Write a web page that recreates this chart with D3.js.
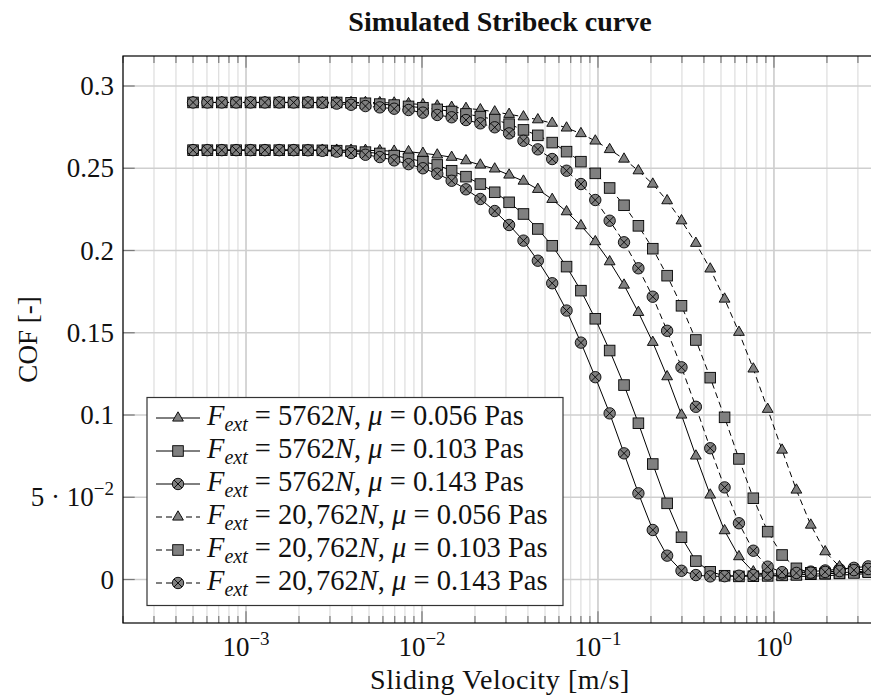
<!DOCTYPE html>
<html>
<head>
<meta charset="utf-8">
<script src="https://cdn.jsdelivr.net/npm/d3@7"></script>
<style>
  body { margin: 0; background: #fff; }
  svg { display: block; }
  text { font-family: "Liberation Serif", "Times New Roman", serif; fill: #111; white-space: pre; }
</style>
</head>
<body>
<div id="chart"></div>
<script>
const velocity = [0.0005, 0.0006034, 0.0007282, 0.0008788, 0.001061, 0.00128, 0.001545, 0.001864, 0.002249, 0.002715,
  0.003276, 0.003953, 0.004771, 0.005757, 0.006948, 0.008385, 0.01012, 0.01221, 0.01474, 0.01778,
  0.02146, 0.0259, 0.03126, 0.03772, 0.04552, 0.05493, 0.06629, 0.08, 0.09654, 0.1165,
  0.1406, 0.1697, 0.2048, 0.2471, 0.2982, 0.3599, 0.4343, 0.5241, 0.6324, 0.7632,
  0.921, 1.112, 1.341, 1.619, 1.954, 2.357, 2.845, 3.433, 4.143, 5.0];

const cof5762_056 = [0.261, 0.261, 0.261, 0.261, 0.261, 0.261, 0.261, 0.261, 0.261, 0.261,
  0.261, 0.261, 0.2609, 0.2607, 0.2604, 0.2601, 0.2591, 0.2581, 0.2567, 0.2546,
  0.2520, 0.2496, 0.2459, 0.2422, 0.2372, 0.2311, 0.2236, 0.2151, 0.2054, 0.1932,
  0.1790, 0.1624, 0.1442, 0.1233, 0.1000, 0.0751, 0.0514, 0.0297, 0.0139, 0.0047,
  0.0027, 0.0018, 0.0018, 0.0020, 0.0023, 0.0027, 0.0031, 0.0035, 0.0040, 0.0045];

const cof5762_103 = [0.261, 0.261, 0.261, 0.261, 0.261, 0.261, 0.261, 0.261, 0.261, 0.2609,
  0.2607, 0.2604, 0.2598, 0.2590, 0.2577, 0.2560, 0.2540, 0.2520, 0.2485, 0.2449,
  0.2404, 0.2354, 0.2293, 0.2222, 0.2131, 0.2029, 0.1902, 0.1756, 0.1585, 0.1392,
  0.1182, 0.0950, 0.0702, 0.0463, 0.0257, 0.0112, 0.0047, 0.0023, 0.0019, 0.0020,
  0.0022, 0.0025, 0.0028, 0.0032, 0.0036, 0.0041, 0.0046, 0.0052, 0.0058, 0.0065];

const cof5762_143 = [0.261, 0.261, 0.261, 0.261, 0.261, 0.261, 0.261, 0.261, 0.2609, 0.2606,
  0.2601, 0.2593, 0.2582, 0.2568, 0.2548, 0.2525, 0.2500, 0.2467, 0.2424, 0.2372,
  0.2313, 0.2240, 0.2155, 0.2060, 0.1938, 0.1801, 0.1635, 0.1440, 0.1230, 0.1010,
  0.0767, 0.0524, 0.0301, 0.0145, 0.0053, 0.0027, 0.0019, 0.0020, 0.0023, 0.0027,
  0.0031, 0.0036, 0.0042, 0.0048, 0.0055, 0.0063, 0.0071, 0.0080, 0.0090, 0.0100];

const cof20762_056 = [0.290, 0.290, 0.290, 0.290, 0.290, 0.290, 0.290, 0.290, 0.290, 0.290,
  0.290, 0.290, 0.290, 0.2899, 0.2897, 0.2893, 0.2887, 0.2879, 0.2871, 0.2864,
  0.2856, 0.2843, 0.2828, 0.2813, 0.2795, 0.2774, 0.2745, 0.2711, 0.2666, 0.2614,
  0.2556, 0.2485, 0.2404, 0.2303, 0.2181, 0.2044, 0.1888, 0.1705, 0.1503, 0.1280,
  0.1035, 0.0787, 0.0544, 0.0331, 0.0169, 0.0078, 0.0045, 0.0038, 0.0038, 0.0040];

const cof20762_103 = [0.290, 0.290, 0.290, 0.290, 0.290, 0.290, 0.290, 0.290, 0.290, 0.290,
  0.290, 0.2898, 0.2895, 0.2890, 0.2884, 0.2876, 0.2868, 0.2858, 0.2845, 0.2830,
  0.2814, 0.2796, 0.2768, 0.2733, 0.2700, 0.2656, 0.2601, 0.2540, 0.2469, 0.2380,
  0.2275, 0.2150, 0.2011, 0.1847, 0.1664, 0.1456, 0.1227, 0.0986, 0.0733, 0.0494,
  0.0291, 0.0149, 0.0068, 0.0041, 0.0036, 0.0037, 0.0040, 0.0044, 0.0049, 0.0054];

const cof20762_143 = [0.290, 0.290, 0.290, 0.290, 0.290, 0.290, 0.290, 0.290, 0.290, 0.2898,
  0.2893, 0.2886, 0.2878, 0.2870, 0.2862, 0.2854, 0.2838, 0.2824, 0.2810, 0.2793,
  0.2773, 0.2749, 0.2712, 0.2667, 0.2615, 0.2556, 0.2485, 0.2404, 0.2307, 0.2181,
  0.2050, 0.1892, 0.1719, 0.1512, 0.1290, 0.1050, 0.0798, 0.0560, 0.0342, 0.0175,
  0.0078, 0.0045, 0.0040, 0.0042, 0.0046, 0.0051, 0.0057, 0.0064, 0.0072, 0.0081];

const loads = ["5762", "5762", "5762", "20,\u200A762", "20,\u200A762", "20,\u200A762"];
const viscosities = ["0.056", "0.103", "0.143", "0.056", "0.103", "0.143"];
const markers = ["triangle", "square", "otimes", "triangle", "square", "otimes"];

const yTicks = [0, 0.05, 0.1, 0.15, 0.2, 0.25, 0.3];
const yTickLabels = ["0", "5 · 10|−2", "0.1", "0.15", "0.2", "0.25", "0.3"];
const xTickExponents = [-3, -2, -1, 0];

const titleText = "Simulated Stribeck curve";
const xLabelText = "Sliding Velocity [m/s]";
const yLabelText = "COF [-]";

const W = 871, H = 700;
const box = { left: 123, right: 877, top: 56, bottom: 623 };

const x = d3.scaleLog().domain([2e-4, 3.85]).range([box.left, box.right]);
const y = d3.scaleLinear().domain([-0.02644, 0.31824]).range([box.bottom, box.top]);

const series = [cof5762_056, cof5762_103, cof5762_143, cof20762_056, cof20762_103, cof20762_143].map((values, i) => ({
  values,
  mark: markers[i],
  dashed: i > 2,
  load: loads[i],
  mu: viscosities[i],
}));

const svg = d3.select("#chart").append("svg").attr("width", W).attr("height", H);
svg.append("rect").attr("width", W).attr("height", H).attr("fill", "white");

// grid: minor x lines, major x lines, y lines
const minorX = [];
const majorX = [];
for (let e = -4; e <= 0; e++) {
  if (Math.pow(10, e) >= 2e-4) majorX.push(Math.pow(10, e));
  for (let m = 2; m <= 9; m++) {
    const v = m * Math.pow(10, e);
    if (v >= 2e-4 && v <= 3.85) minorX.push(v);
  }
}

const grid = svg.append("g");
grid.selectAll("line.minor").data(minorX).enter().append("line")
  .attr("x1", (d) => x(d)).attr("x2", (d) => x(d))
  .attr("y1", box.top).attr("y2", box.bottom)
  .attr("stroke", "#d6d6d6").attr("stroke-width", 1);
grid.selectAll("line.major").data(majorX).enter().append("line")
  .attr("x1", (d) => x(d)).attr("x2", (d) => x(d))
  .attr("y1", box.top).attr("y2", box.bottom)
  .attr("stroke", "#c4c4c4").attr("stroke-width", 1.4);
grid.selectAll("line.yg").data(yTicks).enter().append("line")
  .attr("x1", box.left).attr("x2", box.right)
  .attr("y1", (d) => y(d)).attr("y2", (d) => y(d))
  .attr("stroke", "#cfcfcf").attr("stroke-width", 1.3);

// ticks inside the box
const ticks = svg.append("g").attr("stroke", "#7a7a7a").attr("stroke-width", 1.2);
[[minorX, 7], [majorX, 11.7]].forEach(([vals, len]) => {
  vals.forEach((v) => {
    ticks.append("line").attr("x1", x(v)).attr("x2", x(v)).attr("y1", box.bottom).attr("y2", box.bottom - len);
    ticks.append("line").attr("x1", x(v)).attr("x2", x(v)).attr("y1", box.top).attr("y2", box.top + len);
  });
});
yTicks.forEach((v) => {
  ticks.append("line").attr("x1", box.left).attr("x2", box.left + 11.7).attr("y1", y(v)).attr("y2", y(v));
});

svg.append("clipPath").attr("id", "plotclip").append("rect")
  .attr("x", box.left).attr("y", box.top)
  .attr("width", box.right - box.left).attr("height", box.bottom - box.top);

const drawMarker = (g, type, cx, cy) => {
  const m = g.append("g").attr("transform", `translate(${cx},${cy})`)
    .attr("fill", "#808080").attr("stroke", "#000").attr("stroke-width", 0.9);
  if (type === "triangle") {
    m.append("path").attr("d", "M0,-6.2L5.4,3.1L-5.4,3.1Z");
  } else if (type === "square") {
    m.append("rect").attr("x", -5.3).attr("y", -5.3).attr("width", 10.6).attr("height", 10.6);
  } else {
    m.append("circle").attr("r", 5.7);
    m.append("path").attr("d", "M-4,-4L4,4M-4,4L4,-4").attr("fill", "none");
  }
};

const plot = svg.append("g").attr("clip-path", "url(#plotclip)");
const line = d3.line().x((d, i) => x(velocity[i])).y((d) => y(d));

series.forEach((s) => {
  plot.append("path")
    .attr("d", line(s.values))
    .attr("fill", "none")
    .attr("stroke", "#000")
    .attr("stroke-width", 1)
    .attr("stroke-dasharray", s.dashed ? "6,4" : null);
  s.values.forEach((v, i) => drawMarker(plot, s.mark, x(velocity[i]), y(v)));
});

// axis frame
svg.append("rect")
  .attr("x", box.left).attr("y", box.top)
  .attr("width", box.right - box.left).attr("height", box.bottom - box.top)
  .attr("fill", "none").attr("stroke", "#000").attr("stroke-width", 1.2);

// y tick labels
yTickLabels.forEach((lab, i) => {
  const t = svg.append("text")
    .attr("x", 114).attr("y", y(yTicks[i]) + 9)
    .attr("text-anchor", "end").attr("font-size", 27);
  if (lab.includes("|")) {
    const [base, sup] = lab.split("|");
    t.append("tspan").text(base);
    t.append("tspan").attr("dy", -11).attr("font-size", 19).text(sup);
  } else {
    t.text(lab);
  }
});

// x tick labels
xTickExponents.forEach((e) => {
  const t = svg.append("text")
    .attr("x", x(Math.pow(10, e))).attr("y", 656)
    .attr("text-anchor", "middle").attr("font-size", 27);
  t.append("tspan").text("10");
  t.append("tspan").attr("dy", -11).attr("font-size", 19).text(e < 0 ? "−" + Math.abs(e) : String(e));
});

const cx = (box.left + box.right) / 2;
svg.append("text").attr("x", cx).attr("y", 31).attr("text-anchor", "middle")
  .attr("font-size", 28).attr("font-weight", "bold").text(titleText);
svg.append("text").attr("x", cx).attr("y", 689).attr("text-anchor", "middle")
  .attr("font-size", 28).attr("letter-spacing", 0.6).text(xLabelText);
svg.append("text").attr("transform", `translate(37,${(box.top + box.bottom) / 2}) rotate(-90)`)
  .attr("text-anchor", "middle").attr("font-size", 27).text(yLabelText);

// legend
const leg = svg.append("g");
leg.append("rect").attr("x", 147).attr("y", 397.5).attr("width", 416).attr("height", 208)
  .attr("fill", "white").attr("stroke", "#333").attr("stroke-width", 1.2);

series.forEach((s, i) => {
  const cy = 418 + i * 33;
  leg.append("line").attr("x1", 156).attr("x2", 200).attr("y1", cy).attr("y2", cy)
    .attr("stroke", "#000").attr("stroke-width", 1)
    .attr("stroke-dasharray", s.dashed ? "6,4" : null);
  drawMarker(leg, s.mark, 178, cy);
  const t = leg.append("text").attr("x", 207).attr("y", cy + 7).attr("font-size", 28.5);
  t.append("tspan").attr("font-style", "italic").text("F");
  t.append("tspan").attr("font-style", "italic").attr("font-size", 20).attr("dy", 6).text("ext");
  t.append("tspan").attr("dy", -6).text(" = " + s.load);
  t.append("tspan").attr("font-style", "italic").text("N");
  t.append("tspan").text(", ");
  t.append("tspan").attr("font-style", "italic").text("μ");
  t.append("tspan").text(" = " + s.mu + " Pas");
});
</script>
</body>
</html>
